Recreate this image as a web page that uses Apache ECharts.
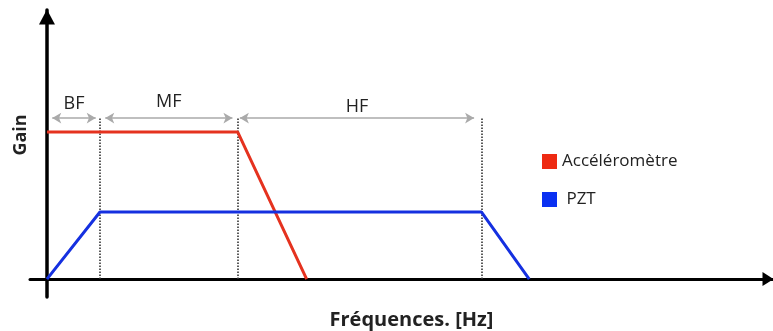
<!DOCTYPE html>
<html><head><meta charset="utf-8">
<script src="https://cdn.jsdelivr.net/npm/echarts@6/dist/echarts.min.js"></script>
<style>html,body{margin:0;padding:0;background:#fff}#c{width:773px;height:331px}</style>
</head><body><div id="c"></div>
<script>
// Schematic breakpoints (arbitrary frequency units) and gains
const accelX = [0, 36, 49];
const accelY = [1, 1, 0];
const pztX = [0, 10, 82, 91];
const pztY = [0, 0.456, 0.456, 0];
const bandEdges = [10, 36, 82];
const bandTop = 1.095;
const bandNames = ['BF', 'MF', 'HF'];
const bandFrom = [1, 11, 36.4];
const bandTo = [9.2, 35, 80.6];
const bandArrowY = 1.095;

const FONT = '"Open Sans", "Liberation Sans", sans-serif';
const chart = echarts.init(document.getElementById('c'), null, {renderer: 'canvas'});

const zip = (xs, ys) => xs.map((x, i) => [x, ys[i]]);

chart.setOption({
  animation: false,
  grid: {left: 30, right: 0, top: 10, bottom: 34, containLabel: false, outerBoundsMode: 'none'},
  xAxis: {
    type: 'value', min: -3.2, max: 137,
    axisLine: {onZero: true, lineStyle: {color: '#000', width: 3}, symbol: ['none', 'triangle'], symbolSize: [14, 11], symbolOffset: [0, -5]},
    axisTick: {show: false}, axisLabel: {show: false}, splitLine: {show: false},
    name: 'Fréquences. [Hz]', nameLocation: 'middle', nameGap: 13,
    nameTextStyle: {fontFamily: FONT, fontWeight: 'bold', fontSize: 20, color: '#222', padding: [0, 0, 0, 20]}
  },
  yAxis: {
    type: 'value', min: -0.122, max: 1.83,
    axisLine: {onZero: true, lineStyle: {color: '#000', width: 3.5}, symbol: ['none', 'triangle'], symbolSize: [16, 15], symbolOffset: [0, -7]},
    axisTick: {show: false}, axisLabel: {show: false}, splitLine: {show: false},
    name: 'Gain', nameLocation: 'middle', nameGap: 0,
    nameTextStyle: {fontFamily: FONT, fontWeight: 'bold', fontSize: 18, color: '#222', padding: [0, 0, 0, 37]}
  },
  legend: {
    orient: 'vertical', left: 537, top: 148, itemWidth: 15, itemHeight: 15, itemGap: 21,
    icon: 'rect',
    textStyle: {fontFamily: FONT, fontSize: 17, color: '#222'},
    formatter: n => n === 'PZT' ? ' PZT' : n,
    data: ['Accéléromètre', 'PZT']
  },
  series: [
    {
      name: 'Accéléromètre', type: 'line', data: zip(accelX, accelY), symbol: 'none',
      lineStyle: {color: '#e5321f', width: 3}, itemStyle: {color: '#ee2a12'}, z: 5
    },
    {
      name: 'PZT', type: 'line', data: zip(pztX, pztY), symbol: 'none',
      lineStyle: {color: '#1530e0', width: 3}, itemStyle: {color: '#0a30f2'}, z: 5
    },
    {
      name: 'bands', type: 'line', data: [], silent: true,
      markLine: {
        silent: true, animation: false,
        symbol: ['none', 'none'],
        lineStyle: {color: '#333', width: 1.6, type: [1.5, 1.5]},
        label: {show: false},
        data: bandEdges.map(x => [{coord: [x, 0]}, {coord: [x, bandTop]}])
      }
    },
    {
      name: 'arrows', type: 'line', data: [], silent: true,
      markLine: {
        silent: true, animation: false,
        symbol: ['arrow', 'arrow'], symbolSize: [8, 9],
        lineStyle: {color: '#aaaaaa', width: 1.5, type: 'solid'},
        label: {show: true, position: 'middle', distance: 5, fontFamily: FONT, fontSize: 18, color: '#222', formatter: p => p.name},
        data: bandNames.map((n, i) => [
          {name: n, coord: [bandFrom[i], bandArrowY], label: {distance: n === 'HF' ? 2 : (n === 'MF' ? 7 : 5)}},
          {coord: [bandTo[i], bandArrowY]}
        ])
      }
    }
  ]
});
</script></body></html>
